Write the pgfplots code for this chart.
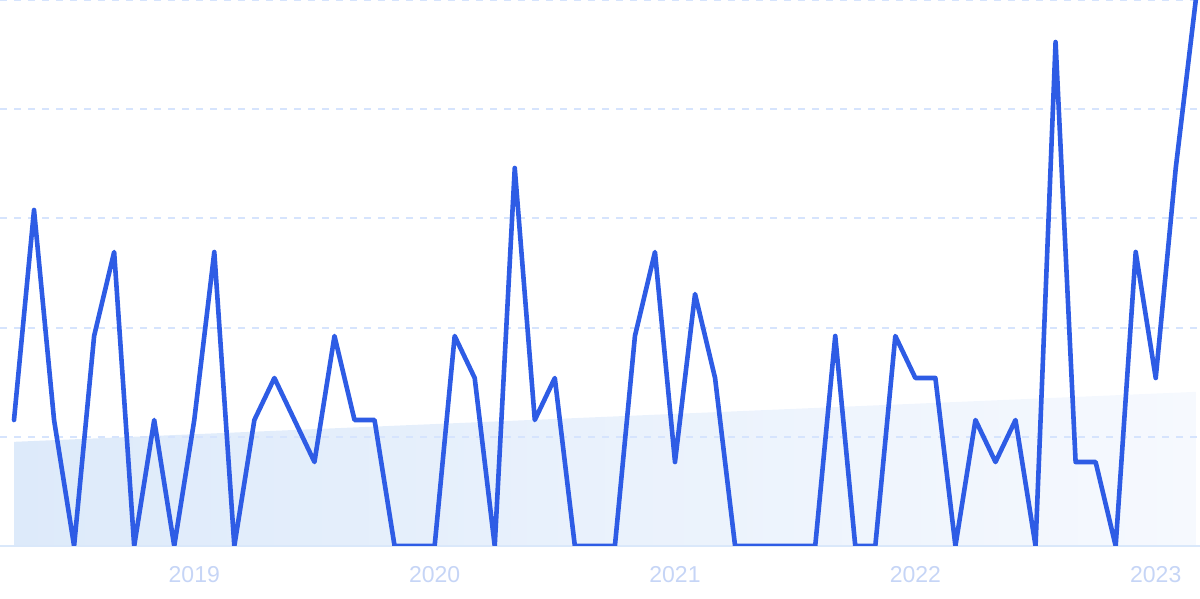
\documentclass[border=0pt]{standalone}
\usepackage{pgfplots}
\pgfplotsset{compat=1.18}
\usepackage{fontspec}
\setmainfont{Liberation Sans}
\definecolor{lineblue}{RGB}{46,92,229}
\definecolor{gridblue}{RGB}{214,228,253}
\definecolor{axisblue}{RGB}{218,232,250}
\definecolor{labelblue}{RGB}{198,213,246}
\definecolor{fillleft}{RGB}{221,234,250}
\definecolor{fillright}{RGB}{246,249,254}
\begin{document}
\begin{tikzpicture}
\begin{axis}[
  at={(0,26.5pt)}, anchor=south west,
  set layers,
  scale only axis,
  width=600pt, height=273pt,
  xmin=-0.699, xmax=59.21,
  ymin=0, ymax=13,
  axis line style={draw=none},
  xtick={9,21,33,45,57},
  xticklabels={2019,2020,2021,2022,2023},
  ytick={2.6,5.2,7.8,10.4,13},
  yticklabels={},
  extra y ticks={0},
  extra y tick labels={},
  extra y tick style={grid style={solid, axisblue, line width=1pt}},
  ymajorgrids,
  grid style={gridblue, line width=1pt, dash pattern=on 3.5pt off 3.5pt},
  major tick length=0pt,
  xticklabel style={font=\fontsize{11.5}{13}\selectfont, text=labelblue, yshift=-6.5pt},
]
\addplot[draw=none, left color=fillleft, right color=fillright, on layer=axis background, forget plot]
  coordinates {(0,2.48) (59,3.67)} \closedcycle;
\addplot[lineblue, line width=2.3pt, line join=round, line cap=round, mark=none] coordinates {
(0,3) (1,8) (2,3) (3,0) (4,5) (5,7) (6,0) (7,3) (8,0) (9,3)
(10,7) (11,0) (12,3) (13,4) (14,3) (15,2) (16,5) (17,3) (18,3) (19,0)
(20,0) (21,0) (22,5) (23,4) (24,0) (25,9) (26,3) (27,4) (28,0) (29,0)
(30,0) (31,5) (32,7) (33,2) (34,6) (35,4) (36,0) (37,0) (38,0) (39,0)
(40,0) (41,5) (42,0) (43,0) (44,5) (45,4) (46,4) (47,0) (48,3) (49,2)
(50,3) (51,0) (52,12) (53,2) (54,2) (55,0) (56,7) (57,4) (58,9) (59,13)
};
\end{axis}
\pgfresetboundingbox
\useasboundingbox (0,0) rectangle (600pt,299.5pt);
\end{tikzpicture}
\end{document}
